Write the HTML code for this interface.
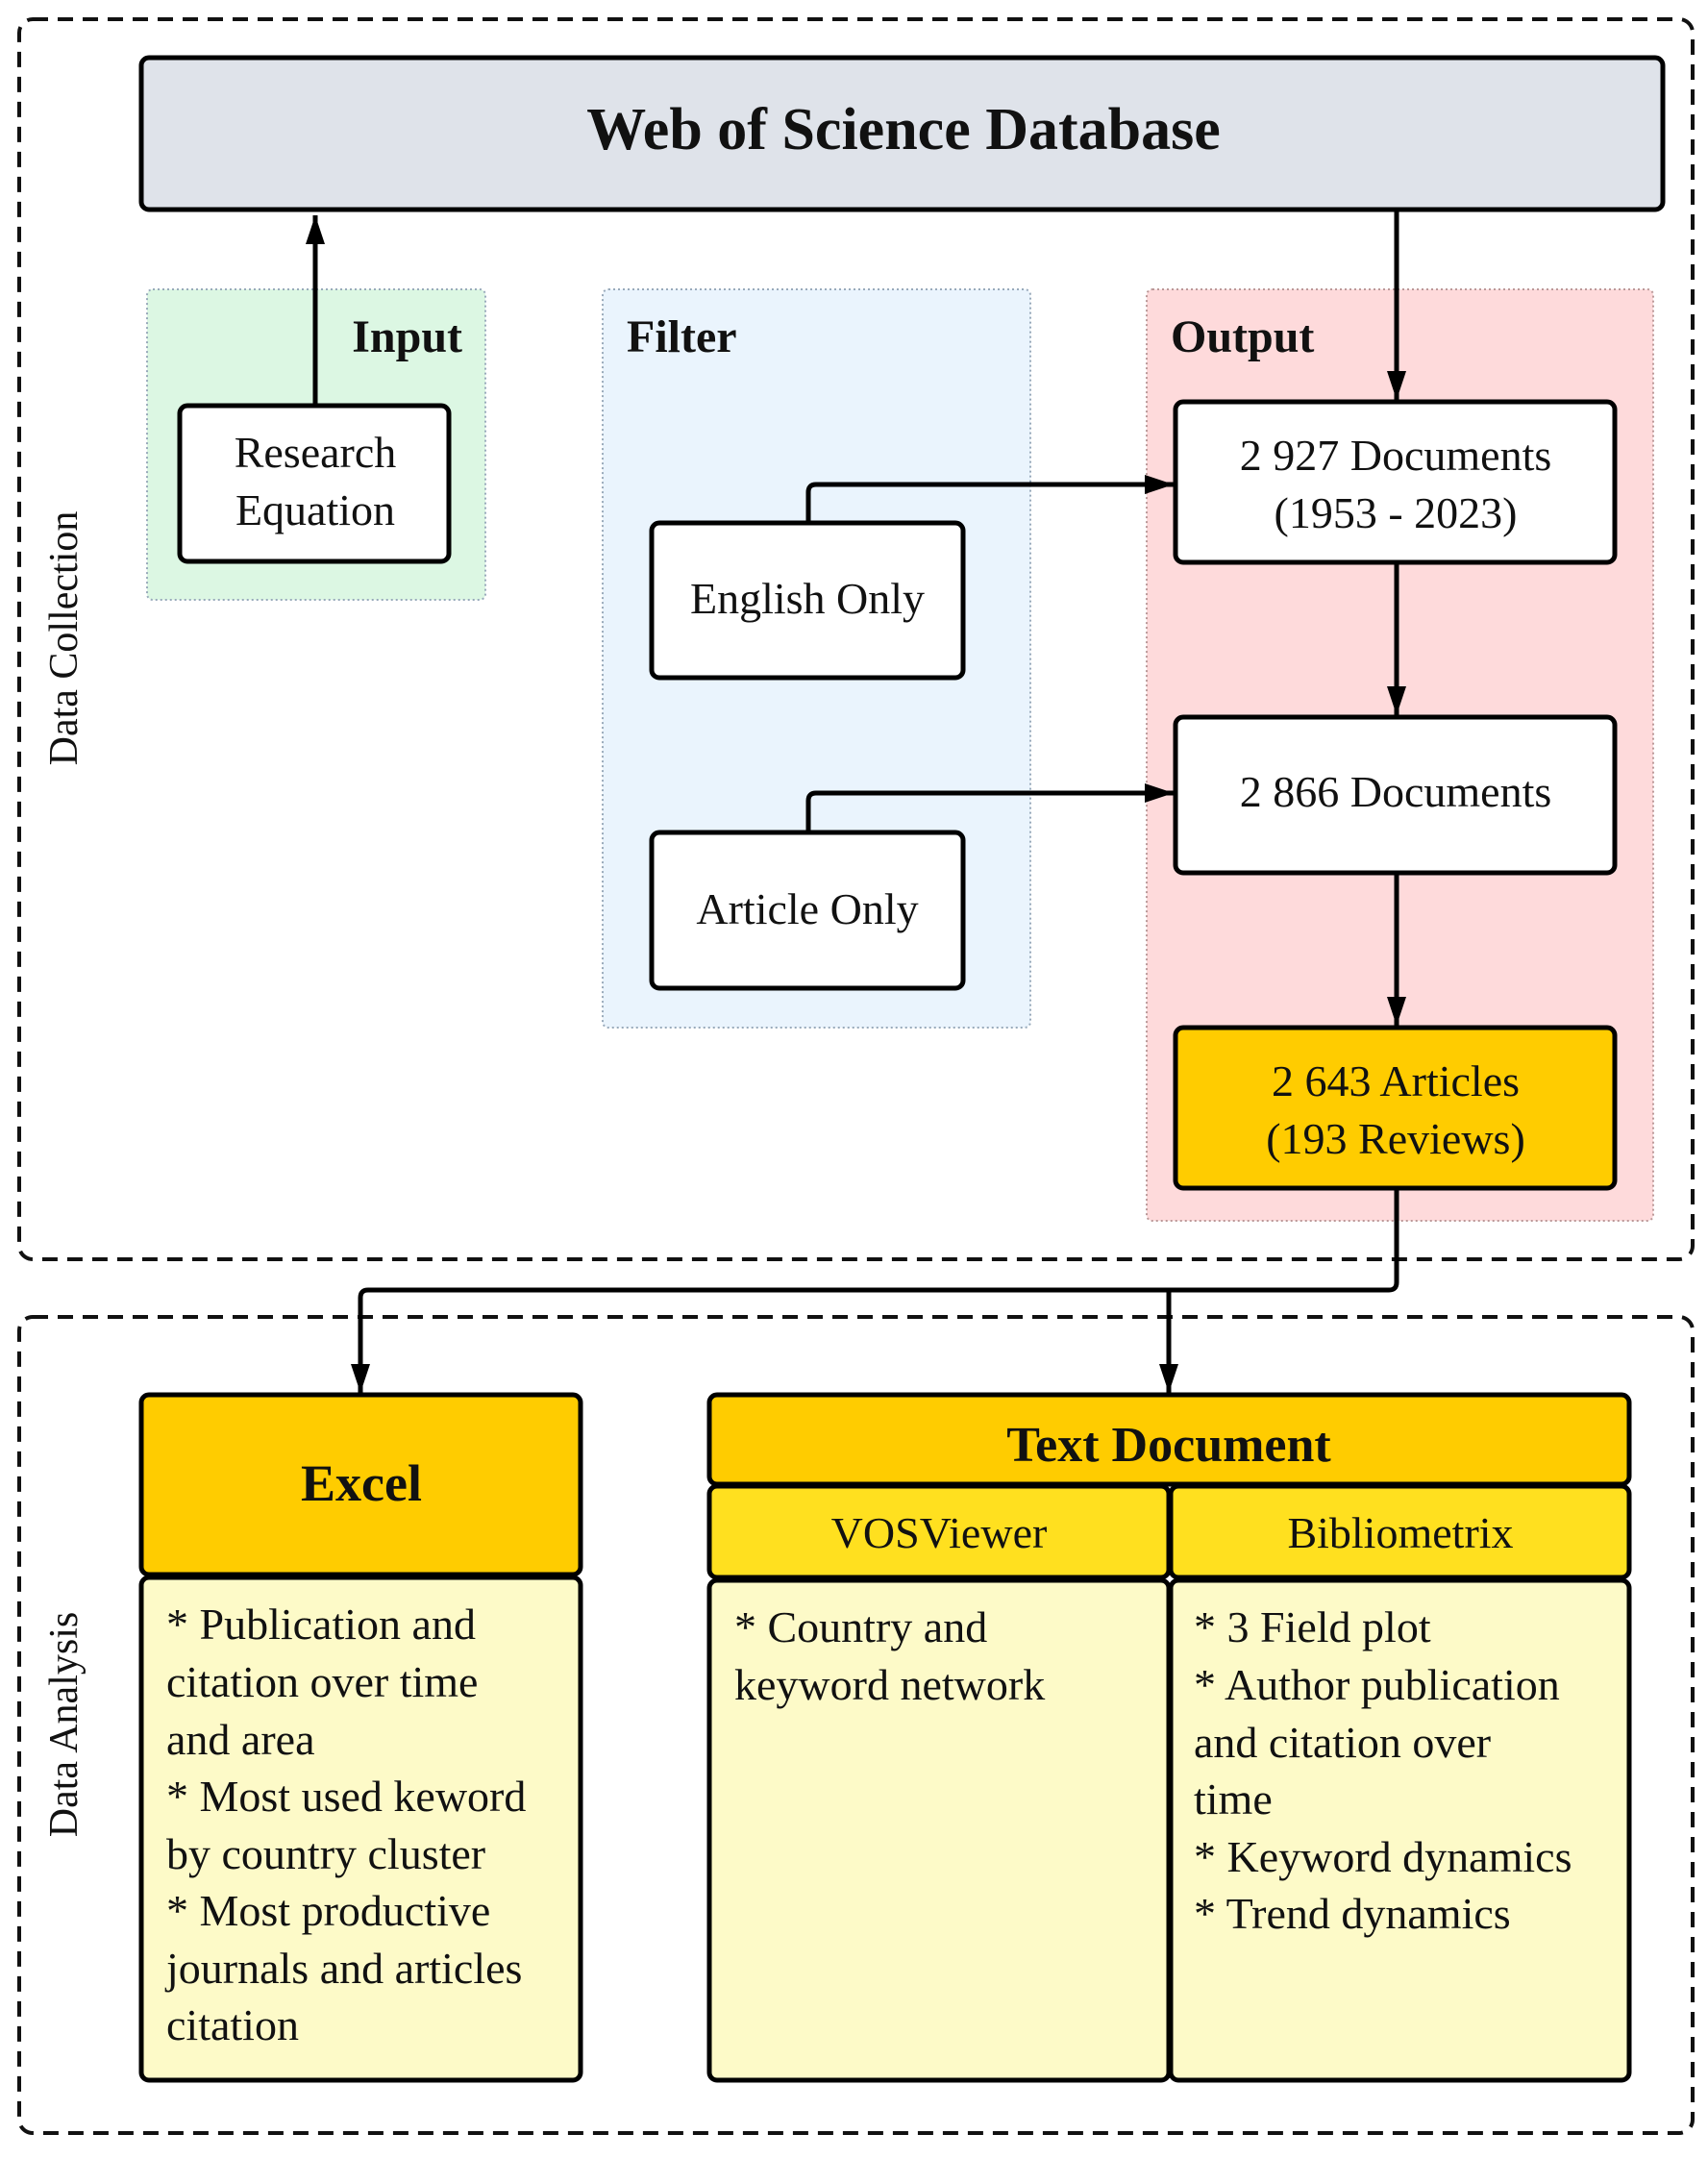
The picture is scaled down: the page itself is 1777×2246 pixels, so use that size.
<!DOCTYPE html>
<html><head><style>
body{margin:0;width:1777px;height:2241px;background:#fff;overflow:hidden}
svg text{font-family:"Liberation Serif",serif;fill:#111}
</style></head><body>
<svg width="1777" height="2241" viewBox="0 0 1777 2241" xmlns="http://www.w3.org/2000/svg">
<defs>
<marker id="b" markerWidth="30" markerHeight="20" refX="30" refY="10" orient="auto" markerUnits="userSpaceOnUse" viewBox="0 0 30 20"><path d="M0,0 L30,10 L0,20 z" fill="#000"/></marker></defs>
<rect x="20" y="20" width="1741" height="1290" rx="14" fill="none" stroke="#111" stroke-width="4" stroke-dasharray="16,10"/>
<rect x="20" y="1370" width="1741" height="849" rx="14" fill="none" stroke="#111" stroke-width="4" stroke-dasharray="16,10"/>
<text x="0" y="0" transform="translate(80,664) rotate(-90)" font-size="42" text-anchor="middle">Data Collection</text>
<text x="0" y="0" transform="translate(80,1794) rotate(-90)" font-size="42" text-anchor="middle">Data Analysis</text>
<rect x="153" y="301" width="352" height="323" rx="6" fill="#dcf7e3" stroke="#9ab" stroke-width="2" stroke-dasharray="2,3"/>
<rect x="627" y="301" width="445" height="768" rx="6" fill="#eaf4fd" stroke="#9ab" stroke-width="2" stroke-dasharray="2,3"/>
<rect x="1193" y="301" width="527" height="969" rx="6" fill="#fedadb" stroke="#b99" stroke-width="2" stroke-dasharray="2,3"/>
<text x="481" y="366" font-size="48" font-weight="bold" text-anchor="end">Input</text>
<text x="652" y="366" font-size="48" font-weight="bold">Filter</text>
<text x="1218" y="366" font-size="48" font-weight="bold">Output</text>
<rect x="147" y="60" width="1583" height="158" rx="8" fill="#dfe3ea" stroke="#000" stroke-width="5"/>
<text x="940" y="155" font-size="62" font-weight="bold" text-anchor="middle">Web of Science Database</text>
<g stroke="#000" stroke-width="5" fill="none">
<path d="M328 422 V224" marker-end="url(#b)"/>
<path d="M1453 218 V416" marker-end="url(#b)"/>
<path d="M1453 585 V744" marker-end="url(#b)"/>
<path d="M1453 908 V1067" marker-end="url(#b)"/>
<path d="M841 544 V512 Q841 504 849 504 H1221" marker-end="url(#b)"/>
<path d="M841 866 V833 Q841 825 849 825 H1221" marker-end="url(#b)"/>
<path d="M1453 1236 V1334 Q1453 1342 1445 1342 H383 Q375 1342 375 1350 V1449" marker-end="url(#b)"/>
<path d="M1216 1342 V1449" marker-end="url(#b)"/>
</g>
<g stroke="#000" stroke-width="5">
<rect x="187" y="422" width="280" height="162" rx="8" fill="#fff"/>
<rect x="678" y="544" width="324" height="161" rx="8" fill="#fff"/>
<rect x="678" y="866" width="324" height="162" rx="8" fill="#fff"/>
<rect x="1223" y="418" width="457" height="167" rx="8" fill="#fff"/>
<rect x="1223" y="746" width="457" height="162" rx="8" fill="#fff"/>
<rect x="1223" y="1069" width="457" height="167" rx="8" fill="#ffcc00"/>
<rect x="147" y="1451" width="457" height="187" rx="8" fill="#ffcc00"/>
<rect x="147" y="1641" width="457" height="523" rx="8" fill="#fdfac8"/>
<rect x="738" y="1451" width="957" height="93" rx="8" fill="#ffcc00"/>
<rect x="738" y="1546" width="478" height="95" rx="8" fill="#ffe01f"/>
<rect x="1218" y="1546" width="477" height="95" rx="8" fill="#ffe01f"/>
<rect x="738" y="1644" width="478" height="520" rx="8" fill="#fdfac8"/>
<rect x="1218" y="1644" width="477" height="520" rx="8" fill="#fdfac8"/>
</g>
<g font-size="46" text-anchor="middle">
<text x="328" y="486">Research</text><text x="328" y="546">Equation</text>
<text x="840" y="638">English Only</text>
<text x="840" y="961">Article Only</text>
<text x="1452" y="489">2 927 Documents</text><text x="1452" y="549">(1953 - 2023)</text>
<text x="1452" y="839">2 866 Documents</text>
<text x="1452" y="1140">2 643 Articles</text><text x="1452" y="1200">(193 Reviews)</text>
<text x="977" y="1610">VOSViewer</text>
<text x="1457" y="1610">Bibliometrix</text>
</g>
<text x="376" y="1561" font-size="54" font-weight="bold" text-anchor="middle">Excel</text>
<text x="1216" y="1520" font-size="52" font-weight="bold" text-anchor="middle">Text Document</text>
<g font-size="46">
<text x="173" y="1705">* Publication and</text>
<text x="173" y="1765">citation over time</text>
<text x="173" y="1825">and area</text>
<text x="173" y="1884">* Most used keword</text>
<text x="173" y="1944">by country cluster</text>
<text x="173" y="2003">* Most productive</text>
<text x="173" y="2063">journals and articles</text>
<text x="173" y="2122">citation</text>
<text x="764" y="1708">* Country and</text>
<text x="764" y="1768">keyword network</text>
<text x="1242" y="1708">* 3 Field plot</text>
<text x="1242" y="1768">* Author publication</text>
<text x="1242" y="1828">and citation over</text>
<text x="1242" y="1887">time</text>
<text x="1242" y="1947">* Keyword dynamics</text>
<text x="1242" y="2006">* Trend dynamics</text>
</g>
</svg>
</body></html>
